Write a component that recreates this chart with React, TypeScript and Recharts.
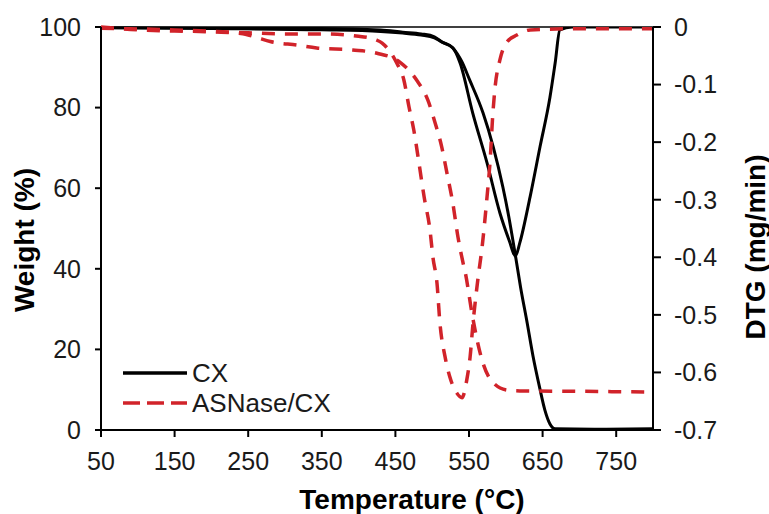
import { Line, LineChart, ReferenceLine, XAxis, YAxis } from 'recharts';

// CX weight loss (%)
const cxWeightTemp = [50, 200, 350, 430, 460, 485, 503, 513, 528, 540, 551, 569, 583, 596, 604, 612, 620, 629, 637, 646, 653, 660, 667, 720, 800];
const cxWeight = [99.8, 99.6, 99.3, 98.9, 98.5, 98.0, 97.3, 96.3, 94.8, 91.5, 86.8, 78.7, 70.2, 60.3, 53.0, 44.5, 35.5, 26.6, 18.3, 10.5, 5.0, 1.5, 0.3, 0.2, 0.3];

// CX derivative (mg/min)
const cxDtgTemp = [50, 300, 430, 460, 485, 503, 513, 528, 538, 555, 574.5, 592, 605, 613, 619, 633, 646.5, 660, 667, 673.5, 690, 800];
const cxDtg = [-0.001, -0.002, -0.005, -0.009, -0.012, -0.017, -0.026, -0.036, -0.063, -0.149, -0.236, -0.323, -0.372, -0.398, -0.375, -0.295, -0.208, -0.122, -0.063, -0.005, 0, 0];

// ASNase/CX weight loss (%)
const asWeightTemp = [50, 100, 150, 200, 240, 260, 280, 316, 343, 392, 425, 456, 479, 494, 504, 513, 520, 528, 535, 542, 545, 554, 561, 569, 583, 602, 619, 700, 800];
const asWeight = [100, 99.3, 99.0, 98.8, 98.4, 97.5, 96.4, 95.5, 94.8, 94.3, 93.5, 91.3, 86.8, 81.9, 76.2, 70.2, 63.8, 56.3, 47.9, 41.4, 39.0, 29.0, 22.3, 16.6, 11.7, 9.9, 9.7, 9.6, 9.4];

// ASNase/CX derivative (mg/min)
const asDtgTemp = [50, 150, 250, 300, 350, 400, 425, 432, 452, 461.5, 468.5, 475, 482, 489, 497, 501, 506.5, 510.5, 517.5, 524, 533.5, 540.5, 547, 551.5, 555.5, 562, 568, 574.5, 578.5, 582.5, 585.5, 592, 601.5, 615, 633, 700, 800];
const asDtg = [-0.002, -0.005, -0.010, -0.012, -0.012, -0.016, -0.023, -0.028, -0.063, -0.092, -0.139, -0.179, -0.236, -0.295, -0.353, -0.400, -0.445, -0.514, -0.573, -0.608, -0.636, -0.644, -0.613, -0.573, -0.514, -0.439, -0.380, -0.295, -0.236, -0.149, -0.104, -0.057, -0.026, -0.014, -0.005, -0.003, -0.003];

const tempTicks = [50, 150, 250, 350, 450, 550, 650, 750];
const weightTicks = [0, 20, 40, 60, 80, 100];
const dtgTicks = [0, -0.1, -0.2, -0.3, -0.4, -0.5, -0.6, -0.7];

const toRows = (temps: number[], values: number[]) => temps.map((t, i) => ({ t, v: values[i] }));

const FONT = '"Liberation Sans", Arial, sans-serif';
const RED = '#d1232a';
const tickStyle = { fill: '#1a1a1a', fontSize: 25, fontFamily: FONT };

export default function App() {
  return (
    <div style={{ position: 'absolute', left: 0, top: 0, width: 769, height: 514, background: '#fff' }}>
      <LineChart width={769} height={514} margin={{ top: 27, right: 16, bottom: 0, left: 0 }}>
        <XAxis
          type="number"
          dataKey="t"
          domain={[50, 800]}
          ticks={tempTicks}
          allowDataOverflow
          height={84}
          tickSize={7}
          tickMargin={15}
          tick={tickStyle}
          stroke="#000"
          strokeWidth={2}
        />
        <YAxis
          yAxisId="w"
          domain={[0, 100]}
          ticks={weightTicks}
          width={101}
          tickSize={6}
          tickMargin={14}
          tick={tickStyle}
          stroke="#000"
          strokeWidth={2}
        />
        <YAxis
          yAxisId="d"
          orientation="right"
          domain={[-0.7, 0]}
          ticks={dtgTicks}
          allowDataOverflow
          width={100}
          tickSize={8}
          tickMargin={13}
          tick={tickStyle}
          stroke="#000"
          strokeWidth={2}
        />
        <ReferenceLine yAxisId="d" y={0} stroke="#000" strokeWidth={1.5} />
        <Line
          yAxisId="w"
          data={toRows(cxWeightTemp, cxWeight)}
          dataKey="v"
          type="monotone"
          stroke="#000"
          strokeWidth={3}
          dot={false}
          isAnimationActive={false}
        />
        <Line
          yAxisId="d"
          data={toRows(cxDtgTemp, cxDtg)}
          dataKey="v"
          type="monotone"
          stroke="#000"
          strokeWidth={3}
          dot={false}
          isAnimationActive={false}
        />
        <Line
          yAxisId="w"
          data={toRows(asWeightTemp, asWeight)}
          dataKey="v"
          type="monotone"
          stroke={RED}
          strokeWidth={3.5}
          strokeDasharray="13 10"
          dot={false}
          isAnimationActive={false}
        />
        <Line
          yAxisId="d"
          data={toRows(asDtgTemp, asDtg)}
          dataKey="v"
          type="monotone"
          stroke={RED}
          strokeWidth={3.5}
          strokeDasharray="13 10"
          dot={false}
          isAnimationActive={false}
        />
      </LineChart>

      {/* axis titles and legend drawn on top */}
      <svg
        width={769}
        height={514}
        style={{ position: 'absolute', left: 0, top: 0, pointerEvents: 'none' }}
        fontFamily={FONT}
      >
        <text
          x={24}
          y={240}
          transform="rotate(-90, 24, 240)"
          textAnchor="middle"
          dominantBaseline="central"
          fontSize={28}
          fontWeight="bold"
        >
          Weight (%)
        </text>
        <text
          x={755}
          y={247}
          transform="rotate(-90, 755, 247)"
          textAnchor="middle"
          dominantBaseline="central"
          fontSize={28}
          fontWeight="bold"
        >
          DTG (mg/min)
        </text>
        <text x={412} y={499} textAnchor="middle" dominantBaseline="central" fontSize={28} fontWeight="bold">
          Temperature (°C)
        </text>

        <line x1={123} y1={373} x2={187} y2={373} stroke="#000" strokeWidth={3.5} />
        <text x={192} y={373} dominantBaseline="central" fontSize={26} fill="#1a1a1a">
          CX
        </text>
        <line x1={123} y1={403} x2={187} y2={403} stroke={RED} strokeWidth={3.5} strokeDasharray="17 7" />
        <text x={192} y={403} dominantBaseline="central" fontSize={26} fill="#1a1a1a">
          ASNase/CX
        </text>
      </svg>
    </div>
  );
}
